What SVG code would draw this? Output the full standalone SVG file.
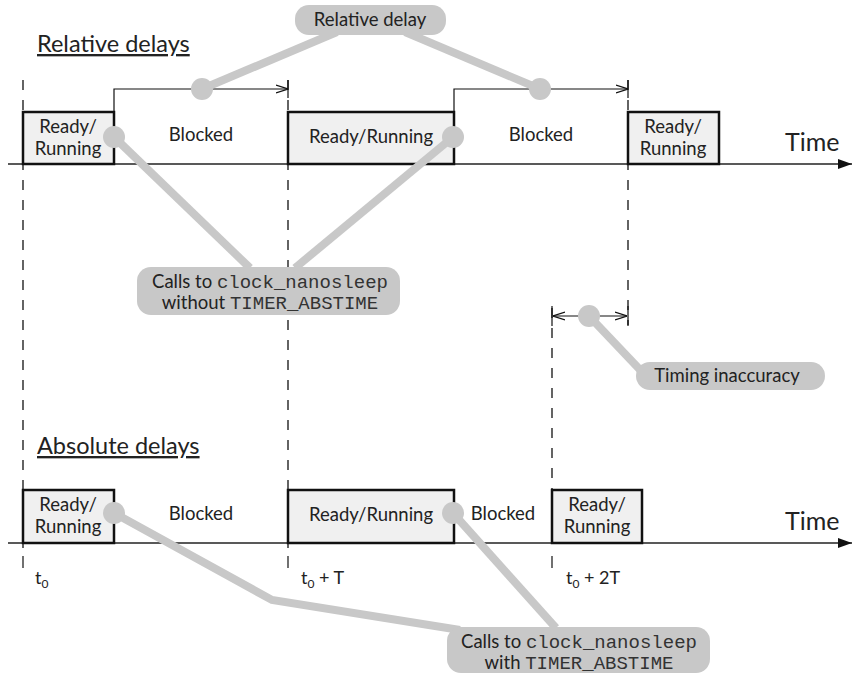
<svg xmlns="http://www.w3.org/2000/svg" width="853" height="675" viewBox="0 0 853 675">
  <defs>
    <marker id="open" viewBox="0 0 12 10" refX="12" refY="5" markerWidth="12" markerHeight="10" markerUnits="userSpaceOnUse" orient="auto-start-reverse">
      <path d="M0,1 L12,5 L0,9" fill="none" stroke="#111" stroke-width="1.2"/>
    </marker>
    <marker id="solid" viewBox="0 0 14 10" refX="14" refY="5" markerWidth="14" markerHeight="10" markerUnits="userSpaceOnUse" orient="auto">
      <path d="M0,0 L14,5 L0,10 Z" fill="#111"/>
    </marker>
  </defs>
  <style>
    text { font-family: Lato, "Open Sans", "Liberation Sans", sans-serif; fill: #222; }
    .lbl { font-size: 18.5px; text-anchor: middle; }
    .title { font-size: 23.5px; text-decoration: underline; }
    .time { font-size: 25px; }
    .mono { font-family: "Liberation Mono", "DejaVu Sans Mono", monospace; font-size: 19px; fill: #333; }
    .state { fill: #f0f0f0; stroke: #111; stroke-width: 2.5; }
    .axis { stroke: #222; stroke-width: 1.6; fill: none; }
    .dash { stroke: #111; stroke-width: 1.3; stroke-dasharray: 10 10; fill: none; }
    .step { stroke: #111; stroke-width: 1.2; fill: none; }
    .lead { stroke: #c8c8c8; stroke-width: 8; fill: none; }
    .dot { fill: #c8c8c8; }
    .pill { fill: #c8c8c8; }
  </style>

  <rect width="853" height="675" fill="#fff"/>

  <!-- section titles -->
  <text class="title" x="37" y="52">Relative delays</text>
  <text class="title" x="37" y="454">Absolute delays</text>

  <!-- time grid -->
  <g id="grid">
    <line class="dash" x1="23" y1="80" x2="23" y2="548"/>
    <line class="dash" x1="288" y1="80" x2="288" y2="548"/>
    <line class="dash" x1="628" y1="80" x2="628" y2="325"/>
    <line class="dash" x1="552" y1="308" x2="552" y2="548"/>
    <line class="step" x1="23" y1="556" x2="23" y2="568"/>
    <line class="step" x1="288" y1="556" x2="288" y2="568"/>
    <line class="step" x1="552" y1="556" x2="552" y2="568"/>
  </g>

  <!-- time axes -->
  <g id="axes">
    <line class="axis" x1="8" y1="164" x2="852" y2="164" marker-end="url(#solid)"/>
    <line class="axis" x1="8" y1="543" x2="852" y2="543" marker-end="url(#solid)"/>
    <text class="time" x="785" y="151">Time</text>
    <text class="time" x="785" y="530">Time</text>
  </g>

  <!-- relative delay timeline -->
  <g id="rel-run1">
    <rect class="state" x="23" y="112" width="91" height="52"/>
    <text class="lbl" x="68" y="133">Ready/</text>
    <text class="lbl" x="68" y="155">Running</text>
  </g>
  <g id="rel-blocked1"><text class="lbl" x="201" y="141">Blocked</text></g>
  <g id="rel-run2">
    <rect class="state" x="288" y="112" width="166" height="52"/>
    <text class="lbl" x="371" y="143">Ready/Running</text>
  </g>
  <g id="rel-blocked2"><text class="lbl" x="541" y="141">Blocked</text></g>
  <g id="rel-run3">
    <rect class="state" x="628" y="112" width="91" height="52"/>
    <text class="lbl" x="673" y="133">Ready/</text>
    <text class="lbl" x="673" y="155">Running</text>
  </g>

  <!-- absolute delay timeline -->
  <g id="abs-run1">
    <rect class="state" x="23" y="490" width="91" height="53"/>
    <text class="lbl" x="68" y="511">Ready/</text>
    <text class="lbl" x="68" y="533">Running</text>
  </g>
  <g id="abs-blocked1"><text class="lbl" x="201" y="520">Blocked</text></g>
  <g id="abs-run2">
    <rect class="state" x="288" y="490" width="166" height="53"/>
    <text class="lbl" x="371" y="521">Ready/Running</text>
  </g>
  <g id="abs-blocked2"><text class="lbl" x="503" y="520">Blocked</text></g>
  <g id="abs-run3">
    <rect class="state" x="552" y="490" width="90" height="53"/>
    <text class="lbl" x="597" y="511">Ready/</text>
    <text class="lbl" x="597" y="533">Running</text>
  </g>

  <!-- instants -->
  <g id="instants" style="font-size:18px">
    <text x="35" y="584">t<tspan dy="4" font-size="12">0</tspan></text>
    <text x="301" y="584">t<tspan dy="4" font-size="12">0</tspan><tspan dy="-4"> + T</tspan></text>
    <text x="566" y="584">t<tspan dy="4" font-size="12">0</tspan><tspan dy="-4"> + 2T</tspan></text>
  </g>

  <!-- delay spans and callout leaders -->
  <g id="connectors">
    <path class="step" d="M114,112 V89 H288" marker-end="url(#open)"/>
    <path class="step" d="M454,112 V89 H628" marker-end="url(#open)"/>
    <line class="step" x1="288" y1="80" x2="288" y2="98"/>
    <line class="step" x1="628" y1="80" x2="628" y2="98"/>
    <line class="step" x1="552" y1="306" x2="552" y2="326"/>
    <line class="step" x1="628" y1="306" x2="628" y2="326"/>
    <line class="step" x1="553" y1="316" x2="627" y2="316" marker-start="url(#open)" marker-end="url(#open)"/>

    <line class="lead" x1="202" y1="89" x2="337" y2="32"/>
    <line class="lead" x1="540" y1="89" x2="405" y2="32"/>
    <line class="lead" x1="114" y1="137" x2="250" y2="268"/>
    <line class="lead" x1="453" y1="137" x2="295" y2="268"/>
    <line class="lead" x1="589" y1="316" x2="645" y2="375"/>
    <polyline class="lead" points="114,513 272,600 460,630"/>
    <line class="lead" x1="453" y1="513" x2="556" y2="628"/>

    <circle class="dot" cx="202" cy="89" r="11"/>
    <circle class="dot" cx="540" cy="89" r="11"/>
    <circle class="dot" cx="114" cy="137" r="11"/>
    <circle class="dot" cx="453" cy="137" r="11"/>
    <circle class="dot" cx="589" cy="316" r="11"/>
    <circle class="dot" cx="114" cy="513" r="11"/>
    <circle class="dot" cx="453" cy="513" r="11"/>
  </g>

  <!-- callouts -->
  <g id="callout-relative">
    <rect class="pill" x="295" y="5" width="151" height="30" rx="14"/>
    <text class="lbl" x="370" y="26">Relative delay</text>
  </g>
  <g id="callout-without">
    <rect class="pill" x="137" y="267" width="263" height="48" rx="14"/>
    <text class="lbl" x="270" y="288">Calls to <tspan class="mono">clock_nanosleep</tspan></text>
    <text class="lbl" x="270" y="309">without <tspan class="mono">TIMER_ABSTIME</tspan></text>
  </g>
  <g id="callout-inaccuracy">
    <rect class="pill" x="636" y="362" width="189" height="28" rx="14"/>
    <text class="lbl" x="727" y="382">Timing inaccuracy</text>
  </g>
  <g id="callout-with">
    <rect class="pill" x="447" y="627" width="263" height="46" rx="14"/>
    <text class="lbl" x="579" y="648">Calls to <tspan class="mono">clock_nanosleep</tspan></text>
    <text class="lbl" x="579" y="669">with <tspan class="mono">TIMER_ABSTIME</tspan></text>
  </g>
</svg>
